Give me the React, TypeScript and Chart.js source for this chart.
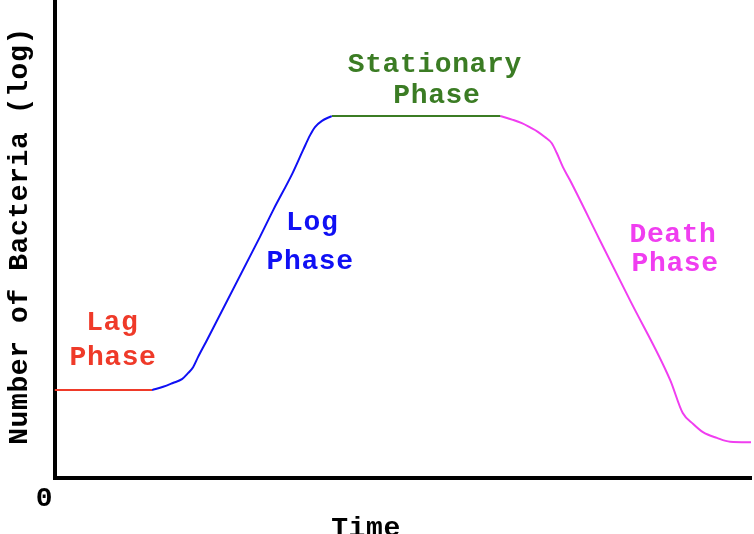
import React, { useEffect, useRef } from "react";
import { Chart, registerables } from "chart.js";

Chart.register(...registerables);

// Time (arbitrary units 0..100) and log bacterial count (0..10)
const lagTime = [0, 14.0];
const lagCount = [1.83, 1.83];

const logTime = [14.0, 15.6, 17.0, 18.3, 19.2, 19.9, 20.6, 21.9, 29.5, 31.4, 34.2, 35.7, 36.7, 37.4, 38.4, 39.8];
const logCount = [1.83, 1.9, 1.98, 2.06, 2.19, 2.31, 2.52, 2.88, 5.04, 5.6, 6.38, 6.86, 7.17, 7.34, 7.47, 7.57];

const statTime = [39.8, 64.0];
const statCount = [7.57, 7.57];

const deathTime = [64.0, 65.8, 67.1, 68.3, 69.4, 70.4, 71.4, 72.1, 73.0, 74.0, 78.3, 82.6, 88.4, 90.2, 91.7, 93.1, 95.1, 97.0, 100];
const deathCount = [7.57, 7.49, 7.42, 7.33, 7.24, 7.13, 7.0, 6.8, 6.5, 6.23, 4.97, 3.72, 2.04, 1.35, 1.12, 0.95, 0.83, 0.75, 0.74];

const phaseLabels = ["Lag", "Phase", "Log", "Phase", "Stationary", "Phase", "Death", "Phase"];
const phaseLabelTime = [8.3, 8.4, 37.0, 36.7, 54.6, 54.9, 88.8, 89.1];
const phaseLabelCount = [3.28, 2.54, 5.37, 4.55, 8.68, 8.03, 5.12, 4.51];

const xTitle = "Time";
const yTitle = "Number of Bacteria (log)";
const originLabel = "0";

const RED = "#ef3a29";
const BLUE = "#1010f4";
const GREEN = "#3b7c24";
const MAGENTA = "#f03ef0";
const labelColors = [RED, RED, BLUE, BLUE, GREEN, GREEN, MAGENTA, MAGENTA];

const FONT = 'bold 28px "Liberation Mono", "Courier New", monospace';

const toPts = (xs: number[], ys: number[]) => xs.map((x, i) => ({ x, y: ys[i] }));

function drawCapCentered(ctx: CanvasRenderingContext2D, text: string, x: number, y: number) {
  const capH = ctx.measureText("H").actualBoundingBoxAscent;
  ctx.fillText(text, x, y + capH / 2);
}

const textPlugin = {
  id: "phaseText",
  afterDraw(chart: any) {
    const ctx: CanvasRenderingContext2D = chart.ctx;
    const xs = chart.scales.x;
    const ys = chart.scales.y;
    ctx.save();
    ctx.font = FONT;
    (ctx as any).letterSpacing = "0.6px";
    ctx.textAlign = "center";
    ctx.textBaseline = "alphabetic";
    phaseLabels.forEach((t, i) => {
      ctx.fillStyle = labelColors[i];
      drawCapCentered(ctx, t, xs.getPixelForValue(phaseLabelTime[i]), ys.getPixelForValue(phaseLabelCount[i]));
    });
    ctx.fillStyle = "#000";
    drawCapCentered(ctx, originLabel, xs.getPixelForValue(0) - 10, ys.getPixelForValue(0) + 19);
    drawCapCentered(ctx, xTitle, 366, ys.getPixelForValue(0) + 49);
    ctx.save();
    ctx.translate(18, 236);
    ctx.rotate(-Math.PI / 2);
    drawCapCentered(ctx, yTitle, 0, 0);
    ctx.restore();
    ctx.restore();
  },
};

export default function App() {
  const ref = useRef<HTMLCanvasElement | null>(null);
  useEffect(() => {
    if (!ref.current) return;
    const common = { borderWidth: 2, pointRadius: 0, cubicInterpolationMode: "monotone" as const };
    const chart = new Chart(ref.current, {
      type: "line",
      data: {
        datasets: [
          { label: "Lag", data: toPts(lagTime, lagCount), borderColor: RED, ...common },
          { label: "Log", data: toPts(logTime, logCount), borderColor: BLUE, ...common },
          { label: "Stationary", data: toPts(statTime, statCount), borderColor: GREEN, ...common },
          { label: "Death", data: toPts(deathTime, deathCount), borderColor: MAGENTA, ...common },
        ],
      },
      options: {
        animation: false,
        responsive: true,
        maintainAspectRatio: false,
        layout: { padding: { left: 54.5, right: 3, top: 0, bottom: 56.5 } },
        plugins: { legend: { display: false }, tooltip: { enabled: false } },
        scales: {
          x: {
            type: "linear",
            min: 0,
            max: 100,
            ticks: { display: false },
            grid: { display: false, drawTicks: false },
            border: { display: true, color: "#000", width: 4 },
          },
          y: {
            type: "linear",
            min: 0,
            max: 10,
            ticks: { display: false },
            grid: { display: false, drawTicks: false },
            border: { display: true, color: "#000", width: 4 },
          },
        },
      },
      plugins: [textPlugin],
    });
    return () => chart.destroy();
  }, []);
  return (
    <div style={{ position: "fixed", left: 0, top: 0, width: 754, height: 534, background: "#fff" }}>
      <canvas ref={ref} />
    </div>
  );
}
